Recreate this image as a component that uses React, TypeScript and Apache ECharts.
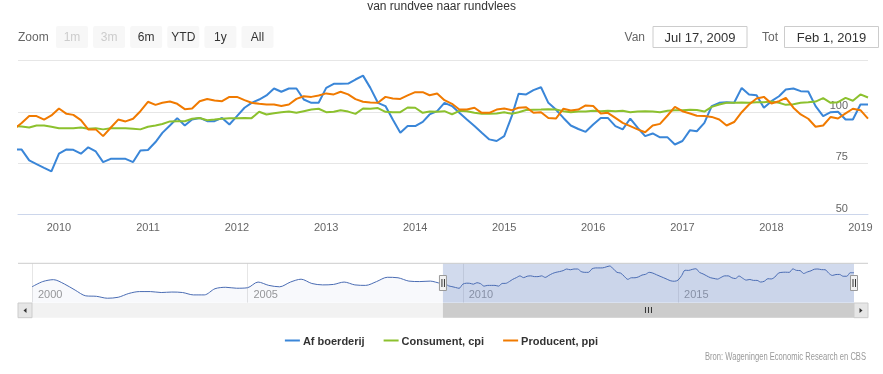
import React, { useEffect, useRef } from 'react';
import * as echarts from 'echarts';

const chartTitle = 'van rundvee naar rundvlees';
const seriesNames = ['Af boerderij', 'Consument, cpi', 'Producent, ppi'];
const seriesColors = ['#3a86d8', '#8cc12e', '#f07a00'];
const rangeButtons = ['1m', '3m', '6m', 'YTD', '1y', 'All'];
const disabledButtons = ['1m', '3m'];
const zoomLabel = 'Zoom';
const fromLabel = 'Van';
const toLabel = 'Tot';
const fromText = 'Jul 17, 2009';
const toText = 'Feb 1, 2019';
const creditsText = 'Bron: Wageningen Economic Research en CBS';

const yTicks = [50, 75, 100, 125];
const mainYearTicks = [2010, 2011, 2012, 2013, 2014, 2015, 2016, 2017, 2018, 2019];
const navYearTicks = [2000, 2005, 2010, 2015];

// visible range
const rangeStart = Date.UTC(2009, 6, 17);
const rangeEnd = Date.UTC(2019, 1, 1);
const navStart = Date.UTC(2000, 0, 1);

// Af boerderij, quarterly history Jan 2000 .. Apr 2009 (navigator only)
const afBoerderijHistory = [
  74, 85, 89, 80,
  67, 55, 54, 50,
  52, 60, 64, 64,
  62, 63, 62, 57,
  57, 70, 73, 71,
  72, 84, 77, 74,
  84, 90, 81, 78,
  79, 84, 78, 77,
  85, 94, 93, 86,
  85, 86,
];

// monthly Jul 2009 .. Feb 2019
const afBoerderij = [
  81.5, 81.5, 76.2, 74.4, 72.6, 70.9,
  79.5, 81.6, 81.4, 79.5, 82.6, 80.6, 75.4, 77.0, 77.0, 77.0, 75.4, 81.1,
  81.3, 85.2, 89.7, 93.3, 96.9, 93.3, 96.2, 97.0, 95.4, 95.4, 97.0, 93.8,
  97.9, 102.0, 104.4, 106.0, 108.0, 111.4, 109.8, 111.4, 111.4, 106.0, 104.4, 104.4,
  111.7, 113.7, 113.7, 113.8, 115.8, 117.7, 111.7, 104.4, 102.8, 96.2, 89.7, 93.0,
  93.0, 95.1, 98.7, 100.3, 104.4, 102.8, 99.5, 96.2, 93.0, 89.7, 86.5, 85.7,
  88.1, 97.9, 108.8, 108.5, 110.6, 112.0, 104.4, 101.1, 97.0, 93.3, 91.6, 90.2,
  93.8, 97.0, 97.0, 93.0, 91.4, 96.7, 92.2, 88.1, 89.4, 87.5, 87.5, 84.0,
  85.7, 91.0, 90.5, 94.6, 102.8, 104.4, 104.7, 104.4, 111.7, 108.5, 108.1, 102.0,
  105.2, 107.6, 110.9, 111.4, 110.1, 109.9, 102.8, 97.9, 99.8, 100.0, 96.2, 96.2,
  103.6, 103.6,
];

const consumentCpi = [
  93.0, 92.8, 92.3, 93.3, 93.3, 92.7,
  92.0, 92.0, 92.0, 92.3, 91.7, 92.0, 91.4, 91.9, 92.0, 92.0, 91.7, 91.4,
  92.7, 93.3, 94.0, 95.3, 95.4, 95.4, 96.6, 97.0, 95.9, 96.2, 96.6, 96.9,
  96.9, 97.0, 96.9, 100.0, 98.7, 99.3, 99.8, 100.1, 99.5, 100.3, 101.1, 101.5,
  99.8, 100.0, 100.8, 100.1, 99.0, 101.6, 101.5, 101.8, 100.0, 99.8, 99.8, 102.1,
  102.0, 99.5, 100.1, 100.0, 100.3, 98.7, 100.5, 100.3, 99.5, 99.0, 99.0, 99.2,
  99.8, 99.0, 99.8, 100.9, 101.0, 101.1, 101.3, 101.1, 100.3, 99.8, 100.1, 100.1,
  100.5, 100.3, 100.5, 100.3, 100.5, 99.8, 100.1, 100.3, 100.1, 99.8, 100.5, 100.8,
  100.8, 101.0, 100.9, 100.1, 102.4, 103.6, 104.4, 104.4, 104.5, 104.4, 104.7, 104.7,
  105.0, 104.4, 103.4, 103.7, 104.4, 104.7, 105.0, 106.7, 104.4, 104.7, 106.8, 105.4,
  108.5, 107.0,
];

const producentPpi = [
  91.5, 94.5, 97.9, 97.9, 96.2, 98.2,
  101.6, 99.0, 98.5, 95.9, 91.4, 91.4, 88.1, 92.2, 96.2, 95.3, 96.6, 100.3,
  104.9, 103.4, 104.4, 105.0, 103.9, 101.3, 101.6, 105.2, 106.3, 105.5, 105.2, 107.3,
  107.3, 105.7, 104.4, 103.9, 103.6, 103.6, 102.8, 103.6, 106.3, 107.6, 107.3, 108.0,
  109.0, 108.5, 109.8, 108.5, 106.2, 104.9, 104.5, 104.4, 107.3, 106.5, 106.3, 108.0,
  109.6, 109.6, 108.1, 109.0, 105.7, 103.9, 101.1, 101.1, 102.0, 99.5, 99.5, 101.1,
  101.6, 100.8, 102.0, 102.2, 99.5, 99.8, 97.0, 96.7, 101.5, 100.6, 101.1, 103.1,
  102.8, 99.2, 99.5, 97.0, 94.6, 93.0, 91.4, 90.0, 93.3, 94.1, 98.2, 102.4,
  100.3, 99.2, 98.1, 97.9, 97.5, 96.2, 93.3, 95.0, 99.8, 103.6, 106.5, 107.3,
  104.1, 105.2, 106.8, 102.0, 98.7, 96.6, 92.7, 93.3, 97.5, 96.7, 99.2, 101.5,
  100.8, 96.7,
];

const FONT = '"Liberation Sans", Arial, Helvetica, sans-serif';

const monthly = (vals: number[]) => vals.map((v, i) => [Date.UTC(2009, 6 + i, 1), v]);
const quarterly = (vals: number[]) => vals.map((v, i) => [Date.UTC(2000, 3 * i, 1), v]);
const yearTs = (y: number) => Date.UTC(y, 0, 1);
const yearOf = (v: number) => String(new Date(v).getUTCFullYear());

export default function App() {
  const ref = useRef<HTMLDivElement>(null);

  useEffect(() => {
    const chart = echarts.init(ref.current!, null, { renderer: 'svg' });
    const blueFull = [...quarterly(afBoerderijHistory), ...monthly(afBoerderij)];
    const seriesData = [blueFull, monthly(consumentCpi), monthly(producentPpi)];

    const buttonsGraphic: any[] = [];
    rangeButtons.forEach((b, i) => {
      const x = 56 + i * 37.1;
      const disabled = disabledButtons.includes(b);
      buttonsGraphic.push({
        type: 'rect', shape: { x, y: 26, width: 32, height: 22, r: 2 },
        style: { fill: '#f7f7f7' }, silent: true,
      });
      buttonsGraphic.push({
        type: 'text', x: x + 16, y: 37,
        style: { text: b, fill: disabled ? '#cccccc' : '#333333', font: `12px ${FONT}`, align: 'center', verticalAlign: 'middle' },
      });
    });

    const option: any = {
      animation: false,
      textStyle: { fontFamily: FONT },
      title: {
        text: chartTitle, left: 'center', top: 0, padding: 0,
        textStyle: { fontSize: 12, fontWeight: 'normal', color: '#333333', fontFamily: FONT },
      },
      legend: {
        bottom: 23, left: 'center', itemWidth: 15, itemHeight: 2, itemGap: 19, icon: 'rect',
        data: seriesNames,
        textStyle: { fontSize: 11, fontWeight: 'bold', color: '#333333', fontFamily: FONT, padding: [0, 0, 0, -2] },
      },
      grid: [
        { left: 18, right: 15, top: 60.7, height: 153.3 },
        { left: 32, right: 29, top: 263.3, height: 39.4 },
      ],
      xAxis: [
        {
          type: 'value', gridIndex: 0, min: rangeStart, max: rangeEnd,
          axisLine: { show: true, lineStyle: { color: '#ccd6eb' } },
          axisTick: { show: false },
          splitLine: { show: false },
          axisLabel: {
            customValues: mainYearTicks.map(yearTs),
            formatter: yearOf,
            color: '#666666', fontSize: 11, margin: 7, fontFamily: FONT,
          },
        },
        {
          type: 'value', gridIndex: 1, min: navStart, max: rangeEnd,
          axisLine: { show: false },
          axisTick: {
            show: true, inside: true, length: 39.4,
            customValues: navYearTicks.map(yearTs),
            lineStyle: { color: '#e6e6e6' },
          },
          splitLine: { show: false },
          axisLabel: {
            inside: true, customValues: navYearTicks.map(yearTs),
            formatter: yearOf,
            color: '#999999', fontSize: 11, margin: 3, align: 'left', padding: [0, 0, 0, 6],
            verticalAlign: 'bottom', fontFamily: FONT,
          },
        },
      ],
      yAxis: [
        {
          type: 'value', gridIndex: 0, position: 'right', min: yTicks[0], max: yTicks[yTicks.length - 1], interval: 25,
          axisLine: { show: false }, axisTick: { show: false },
          splitLine: { show: true, lineStyle: { color: '#e6e6e6' } },
          axisLabel: {
            inside: true, margin: 20, showMaxLabel: false, verticalAlign: 'bottom',
            padding: [0, 0, 1, 0],
            color: '#666666', fontSize: 11, fontFamily: FONT,
          },
        },
        {
          type: 'value', gridIndex: 1, min: 40.6, max: 123.4, show: false,
          splitLine: { show: false },
        },
      ],
      series: [
        ...seriesNames.map((name, i) => ({
          name, type: 'line', xAxisIndex: 0, yAxisIndex: 0,
          data: seriesData[i], showSymbol: false, symbol: 'none',
          lineStyle: { width: 2, color: seriesColors[i] },
          itemStyle: { color: seriesColors[i] },
          z: 2 + i,
        })),
        {
          name: 'navigator', type: 'line', xAxisIndex: 1, yAxisIndex: 1,
          data: blueFull, showSymbol: false, symbol: 'none', smooth: 0.3,
          lineStyle: { width: 1, color: '#4a6cb3' },
          areaStyle: { color: 'rgba(51,92,173,0.05)', origin: 'start' },
          markArea: {
            silent: true,
            itemStyle: { color: 'rgba(102,133,194,0.3)' },
            data: [[{ xAxis: rangeStart }, { xAxis: rangeEnd }]],
          },
        },
      ],
    };
    chart.setOption(option);

    const xL = chart.convertToPixel({ xAxisIndex: 1 }, rangeStart) as number;
    const xR = chart.convertToPixel({ xAxisIndex: 1 }, rangeEnd) as number;
    const navTop = 263.3;
    const sbTop = 303, sbH = 14.7;
    const handle = (cx: number) => ([
      { type: 'rect', shape: { x: cx - 3.5, y: 275.5, width: 7, height: 15 }, style: { fill: '#f2f2f2', stroke: '#999999', lineWidth: 1 }, z: 20 },
      { type: 'line', shape: { x1: cx - 1, y1: 279, x2: cx - 1, y2: 287 }, style: { stroke: '#333333', lineWidth: 1 }, z: 21 },
      { type: 'line', shape: { x1: cx + 1.5, y1: 279, x2: cx + 1.5, y2: 287 }, style: { stroke: '#333333', lineWidth: 1 }, z: 21 },
    ]);
    const mid = (xL + xR) / 2;
    const graphic: any[] = [
      { type: 'text', x: 18, y: 37, style: { text: zoomLabel, fill: '#666666', font: `12px ${FONT}`, verticalAlign: 'middle' } },
      ...buttonsGraphic,
      { type: 'text', x: 645, y: 37, style: { text: fromLabel, fill: '#666666', font: `12px ${FONT}`, align: 'right', verticalAlign: 'middle' } },
      { type: 'rect', shape: { x: 653, y: 26.5, width: 94, height: 21 }, style: { fill: '#ffffff', stroke: '#cccccc', lineWidth: 1 } },
      { type: 'text', x: 700, y: 37, style: { text: fromText, fill: '#333333', font: `13px ${FONT}`, align: 'center', verticalAlign: 'middle' } },
      { type: 'text', x: 778, y: 37, style: { text: toLabel, fill: '#666666', font: `12px ${FONT}`, align: 'right', verticalAlign: 'middle' } },
      { type: 'rect', shape: { x: 784.5, y: 26.5, width: 94, height: 21 }, style: { fill: '#ffffff', stroke: '#cccccc', lineWidth: 1 } },
      { type: 'text', x: 831.5, y: 37, style: { text: toText, fill: '#333333', font: `13px ${FONT}`, align: 'center', verticalAlign: 'middle' } },
      { type: 'line', shape: { x1: 18, y1: navTop, x2: 868, y2: navTop }, style: { stroke: '#cccccc', lineWidth: 1 }, z: 10 },
      { type: 'rect', shape: { x: 18, y: sbTop, width: 850, height: sbH }, style: { fill: '#f2f2f2' }, z: 10 },
      { type: 'rect', shape: { x: 18, y: sbTop, width: 14, height: sbH }, style: { fill: '#e6e6e6', stroke: '#cccccc', lineWidth: 1 }, z: 11 },
      { type: 'polygon', shape: { points: [[26.5, sbTop + 5], [26.5, sbTop + 10], [23.5, sbTop + 7.5]] }, style: { fill: '#333333' }, z: 12 },
      { type: 'rect', shape: { x: 854, y: sbTop, width: 14, height: sbH }, style: { fill: '#e6e6e6', stroke: '#cccccc', lineWidth: 1 }, z: 11 },
      { type: 'polygon', shape: { points: [[859.5, sbTop + 5], [859.5, sbTop + 10], [862.5, sbTop + 7.5]] }, style: { fill: '#333333' }, z: 12 },
      { type: 'rect', shape: { x: xL, y: sbTop, width: xR - xL, height: sbH }, style: { fill: '#cccccc' }, z: 11 },
      { type: 'line', shape: { x1: mid - 3, y1: sbTop + 4, x2: mid - 3, y2: sbTop + 10 }, style: { stroke: '#333333', lineWidth: 1 }, z: 12 },
      { type: 'line', shape: { x1: mid, y1: sbTop + 4, x2: mid, y2: sbTop + 10 }, style: { stroke: '#333333', lineWidth: 1 }, z: 12 },
      { type: 'line', shape: { x1: mid + 3, y1: sbTop + 4, x2: mid + 3, y2: sbTop + 10 }, style: { stroke: '#333333', lineWidth: 1 }, z: 12 },
      ...handle(xL),
      ...handle(xR),
      { type: 'text', x: 866, y: 357, scaleX: 0.76, style: { text: creditsText, fill: '#999999', font: `10px ${FONT}`, align: 'right', verticalAlign: 'middle' } },
    ];
    chart.setOption({ graphic });

    return () => chart.dispose();
  }, []);

  return <div ref={ref} style={{ position: 'fixed', left: 0, top: 0, width: 883, height: 374 }} />;
}
